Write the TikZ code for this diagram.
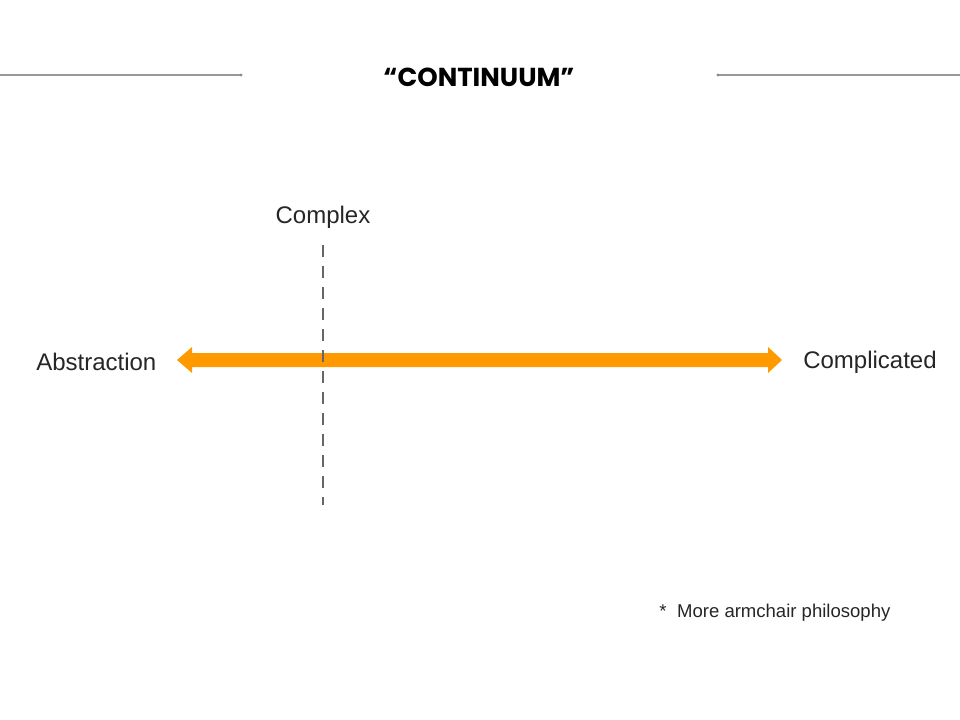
\documentclass[tikz,border=0pt]{standalone}
\usepackage{fontspec}
\setmainfont{Liberation Sans}
\newfontfamily\titlefont{Poppins}
\begin{document}
\begin{tikzpicture}[x=0.75pt,y=-0.75pt,
  lbl/.style={font=\fontsize{18}{20}\selectfont, text=black!85, inner sep=0pt},
  rule/.style={draw=black!40, line width=1.5pt},
  dashline/.style={draw=black!60, line width=2pt, dash pattern=on 9pt off 6.75pt}]
\useasboundingbox (0,0) rectangle (960,720);
\fill[white] (0,0) rectangle (960,720);
% title
\node[inner sep=0pt, font=\titlefont\bfseries\fontsize{19.5}{22}\selectfont] (title) at (479,77) {“CONTINUUM”};
\coordinate (l0) at (0,75);
\coordinate (l1) at (241,75);
\coordinate (r0) at (718,75);
\coordinate (r1) at (960,75);
\draw[rule] (l0) -- (l1);
\draw[rule] (r0) -- (r1);
\fill[black!45] (l1) circle (1.6);
\fill[black!45] (r0) circle (1.6);
% labels
\node[lbl] (complex) at (323,217) {Complex};
\node[lbl, anchor=west] (abs) at (36,362) {Abstraction};
\node[lbl, anchor=west] (comp) at (803,362) {Complicated};
% dashed line
\coordinate (d0) at (323,245);
\coordinate (d1) at (323,505);
% arrow
\fill[fill={rgb,255:red,255;green,153;blue,0}]
  (177,360) -- (192,347) -- (192,353) -- (768,353) -- (768,347) -- (782,360)
  -- (768,373) -- (768,367) -- (192,367) -- (192,373) -- cycle;
\draw[dashline] (d0) -- (d1);
% footnote
\node[inner sep=0pt, anchor=west, text=black!85, font=\fontsize{13.9}{16}\selectfont] (note) at (659,613) {*\hspace{8pt}More armchair philosophy};
\end{tikzpicture}
\end{document}
